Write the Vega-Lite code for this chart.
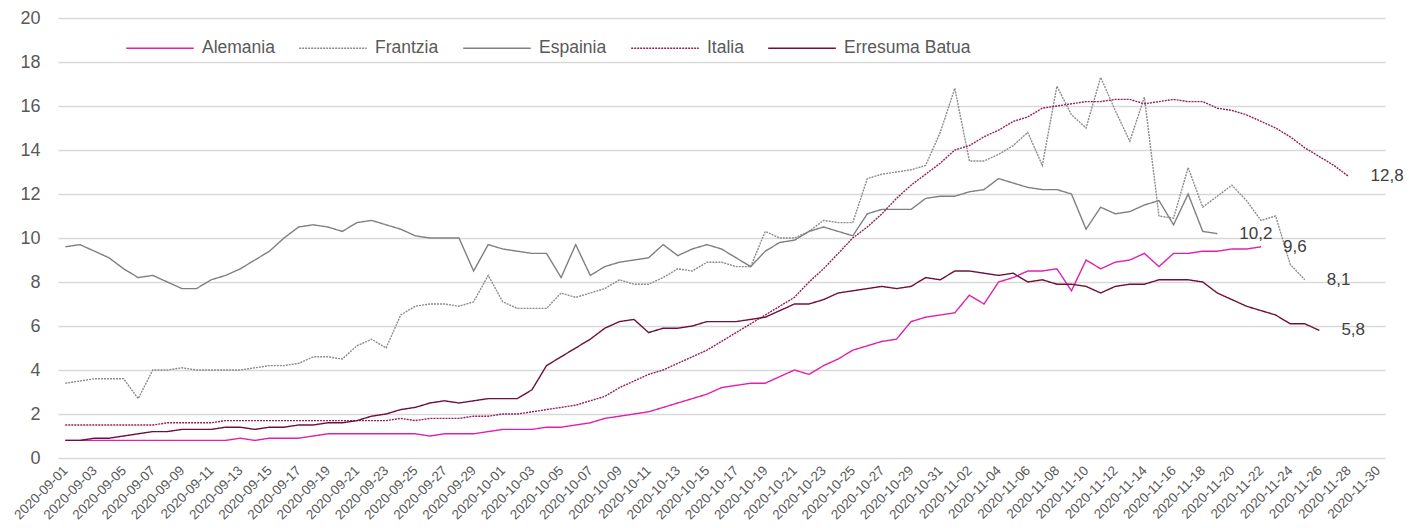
{
  "$schema": "https://vega.github.io/schema/vega-lite/v6.json",
  "width": 1327,
  "height": 440,
  "autosize": {"type": "none"},
  "padding": {"left": 58, "top": 18, "right": 24, "bottom": 70},
  "background": "white",
  "config": {
    "font": "Liberation Sans, Arial, sans-serif",
    "view": {"stroke": null}
  },
  "data": {
    "values": [
      {"date": "2020-09-01", "Alemania": 0.8, "Frantzia": 3.4, "Espainia": 9.6, "Italia": 1.5, "Erresuma Batua": 0.8},
      {"date": "2020-09-02", "Alemania": 0.8, "Frantzia": 3.5, "Espainia": 9.7, "Italia": 1.5, "Erresuma Batua": 0.8},
      {"date": "2020-09-03", "Alemania": 0.8, "Frantzia": 3.6, "Espainia": 9.4, "Italia": 1.5, "Erresuma Batua": 0.9},
      {"date": "2020-09-04", "Alemania": 0.8, "Frantzia": 3.6, "Espainia": 9.1, "Italia": 1.5, "Erresuma Batua": 0.9},
      {"date": "2020-09-05", "Alemania": 0.8, "Frantzia": 3.6, "Espainia": 8.6, "Italia": 1.5, "Erresuma Batua": 1.0},
      {"date": "2020-09-06", "Alemania": 0.8, "Frantzia": 2.7, "Espainia": 8.2, "Italia": 1.5, "Erresuma Batua": 1.1},
      {"date": "2020-09-07", "Alemania": 0.8, "Frantzia": 4.0, "Espainia": 8.3, "Italia": 1.5, "Erresuma Batua": 1.2},
      {"date": "2020-09-08", "Alemania": 0.8, "Frantzia": 4.0, "Espainia": 8.0, "Italia": 1.6, "Erresuma Batua": 1.2},
      {"date": "2020-09-09", "Alemania": 0.8, "Frantzia": 4.1, "Espainia": 7.7, "Italia": 1.6, "Erresuma Batua": 1.3},
      {"date": "2020-09-10", "Alemania": 0.8, "Frantzia": 4.0, "Espainia": 7.7, "Italia": 1.6, "Erresuma Batua": 1.3},
      {"date": "2020-09-11", "Alemania": 0.8, "Frantzia": 4.0, "Espainia": 8.1, "Italia": 1.6, "Erresuma Batua": 1.3},
      {"date": "2020-09-12", "Alemania": 0.8, "Frantzia": 4.0, "Espainia": 8.3, "Italia": 1.7, "Erresuma Batua": 1.4},
      {"date": "2020-09-13", "Alemania": 0.9, "Frantzia": 4.0, "Espainia": 8.6, "Italia": 1.7, "Erresuma Batua": 1.4},
      {"date": "2020-09-14", "Alemania": 0.8, "Frantzia": 4.1, "Espainia": 9.0, "Italia": 1.7, "Erresuma Batua": 1.3},
      {"date": "2020-09-15", "Alemania": 0.9, "Frantzia": 4.2, "Espainia": 9.4, "Italia": 1.7, "Erresuma Batua": 1.4},
      {"date": "2020-09-16", "Alemania": 0.9, "Frantzia": 4.2, "Espainia": 10.0, "Italia": 1.7, "Erresuma Batua": 1.4},
      {"date": "2020-09-17", "Alemania": 0.9, "Frantzia": 4.3, "Espainia": 10.5, "Italia": 1.7, "Erresuma Batua": 1.5},
      {"date": "2020-09-18", "Alemania": 1.0, "Frantzia": 4.6, "Espainia": 10.6, "Italia": 1.7, "Erresuma Batua": 1.5},
      {"date": "2020-09-19", "Alemania": 1.1, "Frantzia": 4.6, "Espainia": 10.5, "Italia": 1.7, "Erresuma Batua": 1.6},
      {"date": "2020-09-20", "Alemania": 1.1, "Frantzia": 4.5, "Espainia": 10.3, "Italia": 1.7, "Erresuma Batua": 1.6},
      {"date": "2020-09-21", "Alemania": 1.1, "Frantzia": 5.1, "Espainia": 10.7, "Italia": 1.7, "Erresuma Batua": 1.7},
      {"date": "2020-09-22", "Alemania": 1.1, "Frantzia": 5.4, "Espainia": 10.8, "Italia": 1.7, "Erresuma Batua": 1.9},
      {"date": "2020-09-23", "Alemania": 1.1, "Frantzia": 5.0, "Espainia": 10.6, "Italia": 1.7, "Erresuma Batua": 2.0},
      {"date": "2020-09-24", "Alemania": 1.1, "Frantzia": 6.5, "Espainia": 10.4, "Italia": 1.8, "Erresuma Batua": 2.2},
      {"date": "2020-09-25", "Alemania": 1.1, "Frantzia": 6.9, "Espainia": 10.1, "Italia": 1.7, "Erresuma Batua": 2.3},
      {"date": "2020-09-26", "Alemania": 1.0, "Frantzia": 7.0, "Espainia": 10.0, "Italia": 1.8, "Erresuma Batua": 2.5},
      {"date": "2020-09-27", "Alemania": 1.1, "Frantzia": 7.0, "Espainia": 10.0, "Italia": 1.8, "Erresuma Batua": 2.6},
      {"date": "2020-09-28", "Alemania": 1.1, "Frantzia": 6.9, "Espainia": 10.0, "Italia": 1.8, "Erresuma Batua": 2.5},
      {"date": "2020-09-29", "Alemania": 1.1, "Frantzia": 7.1, "Espainia": 8.5, "Italia": 1.9, "Erresuma Batua": 2.6},
      {"date": "2020-09-30", "Alemania": 1.2, "Frantzia": 8.3, "Espainia": 9.7, "Italia": 1.9, "Erresuma Batua": 2.7},
      {"date": "2020-10-01", "Alemania": 1.3, "Frantzia": 7.1, "Espainia": 9.5, "Italia": 2.0, "Erresuma Batua": 2.7},
      {"date": "2020-10-02", "Alemania": 1.3, "Frantzia": 6.8, "Espainia": 9.4, "Italia": 2.0, "Erresuma Batua": 2.7},
      {"date": "2020-10-03", "Alemania": 1.3, "Frantzia": 6.8, "Espainia": 9.3, "Italia": 2.1, "Erresuma Batua": 3.1},
      {"date": "2020-10-04", "Alemania": 1.4, "Frantzia": 6.8, "Espainia": 9.3, "Italia": 2.2, "Erresuma Batua": 4.2},
      {"date": "2020-10-05", "Alemania": 1.4, "Frantzia": 7.5, "Espainia": 8.2, "Italia": 2.3, "Erresuma Batua": 4.6},
      {"date": "2020-10-06", "Alemania": 1.5, "Frantzia": 7.3, "Espainia": 9.7, "Italia": 2.4, "Erresuma Batua": 5.0},
      {"date": "2020-10-07", "Alemania": 1.6, "Frantzia": 7.5, "Espainia": 8.3, "Italia": 2.6, "Erresuma Batua": 5.4},
      {"date": "2020-10-08", "Alemania": 1.8, "Frantzia": 7.7, "Espainia": 8.7, "Italia": 2.8, "Erresuma Batua": 5.9},
      {"date": "2020-10-09", "Alemania": 1.9, "Frantzia": 8.1, "Espainia": 8.9, "Italia": 3.2, "Erresuma Batua": 6.2},
      {"date": "2020-10-10", "Alemania": 2.0, "Frantzia": 7.9, "Espainia": 9.0, "Italia": 3.5, "Erresuma Batua": 6.3},
      {"date": "2020-10-11", "Alemania": 2.1, "Frantzia": 7.9, "Espainia": 9.1, "Italia": 3.8, "Erresuma Batua": 5.7},
      {"date": "2020-10-12", "Alemania": 2.3, "Frantzia": 8.2, "Espainia": 9.7, "Italia": 4.0, "Erresuma Batua": 5.9},
      {"date": "2020-10-13", "Alemania": 2.5, "Frantzia": 8.6, "Espainia": 9.2, "Italia": 4.3, "Erresuma Batua": 5.9},
      {"date": "2020-10-14", "Alemania": 2.7, "Frantzia": 8.5, "Espainia": 9.5, "Italia": 4.6, "Erresuma Batua": 6.0},
      {"date": "2020-10-15", "Alemania": 2.9, "Frantzia": 8.9, "Espainia": 9.7, "Italia": 4.9, "Erresuma Batua": 6.2},
      {"date": "2020-10-16", "Alemania": 3.2, "Frantzia": 8.9, "Espainia": 9.5, "Italia": 5.3, "Erresuma Batua": 6.2},
      {"date": "2020-10-17", "Alemania": 3.3, "Frantzia": 8.7, "Espainia": 9.1, "Italia": 5.7, "Erresuma Batua": 6.2},
      {"date": "2020-10-18", "Alemania": 3.4, "Frantzia": 8.7, "Espainia": 8.7, "Italia": 6.1, "Erresuma Batua": 6.3},
      {"date": "2020-10-19", "Alemania": 3.4, "Frantzia": 10.3, "Espainia": 9.4, "Italia": 6.5, "Erresuma Batua": 6.4},
      {"date": "2020-10-20", "Alemania": 3.7, "Frantzia": 10.0, "Espainia": 9.8, "Italia": 6.9, "Erresuma Batua": 6.7},
      {"date": "2020-10-21", "Alemania": 4.0, "Frantzia": 10.0, "Espainia": 9.9, "Italia": 7.3, "Erresuma Batua": 7.0},
      {"date": "2020-10-22", "Alemania": 3.8, "Frantzia": 10.3, "Espainia": 10.3, "Italia": 8.0, "Erresuma Batua": 7.0},
      {"date": "2020-10-23", "Alemania": 4.2, "Frantzia": 10.8, "Espainia": 10.5, "Italia": 8.6, "Erresuma Batua": 7.2},
      {"date": "2020-10-24", "Alemania": 4.5, "Frantzia": 10.7, "Espainia": 10.3, "Italia": 9.3, "Erresuma Batua": 7.5},
      {"date": "2020-10-25", "Alemania": 4.9, "Frantzia": 10.7, "Espainia": 10.1, "Italia": 10.0, "Erresuma Batua": 7.6},
      {"date": "2020-10-26", "Alemania": 5.1, "Frantzia": 12.7, "Espainia": 11.1, "Italia": 10.5, "Erresuma Batua": 7.7},
      {"date": "2020-10-27", "Alemania": 5.3, "Frantzia": 12.9, "Espainia": 11.3, "Italia": 11.1, "Erresuma Batua": 7.8},
      {"date": "2020-10-28", "Alemania": 5.4, "Frantzia": 13.0, "Espainia": 11.3, "Italia": 11.8, "Erresuma Batua": 7.7},
      {"date": "2020-10-29", "Alemania": 6.2, "Frantzia": 13.1, "Espainia": 11.3, "Italia": 12.4, "Erresuma Batua": 7.8},
      {"date": "2020-10-30", "Alemania": 6.4, "Frantzia": 13.3, "Espainia": 11.8, "Italia": 12.9, "Erresuma Batua": 8.2},
      {"date": "2020-10-31", "Alemania": 6.5, "Frantzia": 14.8, "Espainia": 11.9, "Italia": 13.4, "Erresuma Batua": 8.1},
      {"date": "2020-11-01", "Alemania": 6.6, "Frantzia": 16.8, "Espainia": 11.9, "Italia": 14.0, "Erresuma Batua": 8.5},
      {"date": "2020-11-02", "Alemania": 7.4, "Frantzia": 13.5, "Espainia": 12.1, "Italia": 14.2, "Erresuma Batua": 8.5},
      {"date": "2020-11-03", "Alemania": 7.0, "Frantzia": 13.5, "Espainia": 12.2, "Italia": 14.6, "Erresuma Batua": 8.4},
      {"date": "2020-11-04", "Alemania": 8.0, "Frantzia": 13.8, "Espainia": 12.7, "Italia": 14.9, "Erresuma Batua": 8.3},
      {"date": "2020-11-05", "Alemania": 8.2, "Frantzia": 14.2, "Espainia": 12.5, "Italia": 15.3, "Erresuma Batua": 8.4},
      {"date": "2020-11-06", "Alemania": 8.5, "Frantzia": 14.8, "Espainia": 12.3, "Italia": 15.5, "Erresuma Batua": 8.0},
      {"date": "2020-11-07", "Alemania": 8.5, "Frantzia": 13.3, "Espainia": 12.2, "Italia": 15.9, "Erresuma Batua": 8.1},
      {"date": "2020-11-08", "Alemania": 8.6, "Frantzia": 16.9, "Espainia": 12.2, "Italia": 16.0, "Erresuma Batua": 7.9},
      {"date": "2020-11-09", "Alemania": 7.6, "Frantzia": 15.6, "Espainia": 12.0, "Italia": 16.1, "Erresuma Batua": 7.9},
      {"date": "2020-11-10", "Alemania": 9.0, "Frantzia": 15.0, "Espainia": 10.4, "Italia": 16.2, "Erresuma Batua": 7.8},
      {"date": "2020-11-11", "Alemania": 8.6, "Frantzia": 17.3, "Espainia": 11.4, "Italia": 16.2, "Erresuma Batua": 7.5},
      {"date": "2020-11-12", "Alemania": 8.9, "Frantzia": 15.8, "Espainia": 11.1, "Italia": 16.3, "Erresuma Batua": 7.8},
      {"date": "2020-11-13", "Alemania": 9.0, "Frantzia": 14.4, "Espainia": 11.2, "Italia": 16.3, "Erresuma Batua": 7.9},
      {"date": "2020-11-14", "Alemania": 9.3, "Frantzia": 16.4, "Espainia": 11.5, "Italia": 16.1, "Erresuma Batua": 7.9},
      {"date": "2020-11-15", "Alemania": 8.7, "Frantzia": 11.0, "Espainia": 11.7, "Italia": 16.2, "Erresuma Batua": 8.1},
      {"date": "2020-11-16", "Alemania": 9.3, "Frantzia": 10.9, "Espainia": 10.6, "Italia": 16.3, "Erresuma Batua": 8.1},
      {"date": "2020-11-17", "Alemania": 9.3, "Frantzia": 13.2, "Espainia": 12.0, "Italia": 16.2, "Erresuma Batua": 8.1},
      {"date": "2020-11-18", "Alemania": 9.4, "Frantzia": 11.4, "Espainia": 10.3, "Italia": 16.2, "Erresuma Batua": 8.0},
      {"date": "2020-11-19", "Alemania": 9.4, "Frantzia": 11.9, "Espainia": 10.2, "Italia": 15.9, "Erresuma Batua": 7.5},
      {"date": "2020-11-20", "Alemania": 9.5, "Frantzia": 12.4, "Espainia": null, "Italia": 15.8, "Erresuma Batua": 7.2},
      {"date": "2020-11-21", "Alemania": 9.5, "Frantzia": 11.7, "Espainia": null, "Italia": 15.6, "Erresuma Batua": 6.9},
      {"date": "2020-11-22", "Alemania": 9.6, "Frantzia": 10.8, "Espainia": null, "Italia": 15.3, "Erresuma Batua": 6.7},
      {"date": "2020-11-23", "Alemania": null, "Frantzia": 11.0, "Espainia": null, "Italia": 15.0, "Erresuma Batua": 6.5},
      {"date": "2020-11-24", "Alemania": null, "Frantzia": 8.8, "Espainia": null, "Italia": 14.6, "Erresuma Batua": 6.1},
      {"date": "2020-11-25", "Alemania": null, "Frantzia": 8.1, "Espainia": null, "Italia": 14.1, "Erresuma Batua": 6.1},
      {"date": "2020-11-26", "Alemania": null, "Frantzia": null, "Espainia": null, "Italia": 13.7, "Erresuma Batua": 5.8},
      {"date": "2020-11-27", "Alemania": null, "Frantzia": null, "Espainia": null, "Italia": 13.3, "Erresuma Batua": null},
      {"date": "2020-11-28", "Alemania": null, "Frantzia": null, "Espainia": null, "Italia": 12.8, "Erresuma Batua": null}
    ]
  },
  "encoding": {
    "x": {
      "field": "date",
      "type": "ordinal",
      "scale": {
        "type": "point",
        "padding": 0.5,
        "domain": ["2020-09-01","2020-09-02","2020-09-03","2020-09-04","2020-09-05","2020-09-06","2020-09-07","2020-09-08","2020-09-09","2020-09-10","2020-09-11","2020-09-12","2020-09-13","2020-09-14","2020-09-15","2020-09-16","2020-09-17","2020-09-18","2020-09-19","2020-09-20","2020-09-21","2020-09-22","2020-09-23","2020-09-24","2020-09-25","2020-09-26","2020-09-27","2020-09-28","2020-09-29","2020-09-30","2020-10-01","2020-10-02","2020-10-03","2020-10-04","2020-10-05","2020-10-06","2020-10-07","2020-10-08","2020-10-09","2020-10-10","2020-10-11","2020-10-12","2020-10-13","2020-10-14","2020-10-15","2020-10-16","2020-10-17","2020-10-18","2020-10-19","2020-10-20","2020-10-21","2020-10-22","2020-10-23","2020-10-24","2020-10-25","2020-10-26","2020-10-27","2020-10-28","2020-10-29","2020-10-30","2020-10-31","2020-11-01","2020-11-02","2020-11-03","2020-11-04","2020-11-05","2020-11-06","2020-11-07","2020-11-08","2020-11-09","2020-11-10","2020-11-11","2020-11-12","2020-11-13","2020-11-14","2020-11-15","2020-11-16","2020-11-17","2020-11-18","2020-11-19","2020-11-20","2020-11-21","2020-11-22","2020-11-23","2020-11-24","2020-11-25","2020-11-26","2020-11-27","2020-11-28","2020-11-29","2020-11-30"]
      },
      "axis": {
        "values": ["2020-09-01","2020-09-03","2020-09-05","2020-09-07","2020-09-09","2020-09-11","2020-09-13","2020-09-15","2020-09-17","2020-09-19","2020-09-21","2020-09-23","2020-09-25","2020-09-27","2020-09-29","2020-10-01","2020-10-03","2020-10-05","2020-10-07","2020-10-09","2020-10-11","2020-10-13","2020-10-15","2020-10-17","2020-10-19","2020-10-21","2020-10-23","2020-10-25","2020-10-27","2020-10-29","2020-10-31","2020-11-02","2020-11-04","2020-11-06","2020-11-08","2020-11-10","2020-11-12","2020-11-14","2020-11-16","2020-11-18","2020-11-20","2020-11-22","2020-11-24","2020-11-26","2020-11-28","2020-11-30"],
        "title": null,
        "labelAngle": -45,
        "labelAlign": "right",
        "labelBaseline": "middle",
        "labelFontSize": 13.5,
        "labelColor": "#595959",
        "labelPadding": 10,
        "labelOverlap": false,
        "labelBound": false,
        "ticks": false,
        "domain": false,
        "grid": false
      }
    }
  },
  "layer": [
    {
      "transform": [
        {"fold": ["Alemania", "Frantzia", "Espainia", "Italia", "Erresuma Batua"], "as": ["pais", "value"]},
        {"filter": "isValid(datum.value)"}
      ],
      "mark": {"type": "line", "strokeWidth": 1.4},
      "encoding": {
        "y": {
          "field": "value",
          "type": "quantitative",
          "scale": {"domain": [0, 20], "nice": false},
          "axis": {
            "values": [0, 2, 4, 6, 8, 10, 12, 14, 16, 18, 20],
            "title": null,
            "grid": true,
            "gridColor": "#d9d9d9",
            "gridWidth": 1.5,
            "domain": false,
            "ticks": false,
            "labelFontSize": 18,
            "labelColor": "#595959",
            "labelPadding": 18
          }
        },
        "color": {
          "field": "pais",
          "type": "nominal",
          "scale": {
            "domain": ["Alemania", "Frantzia", "Espainia", "Italia", "Erresuma Batua"],
            "range": ["#E020A8", "#8C8C8C", "#808080", "#94205A", "#6E0F3C"]
          },
          "legend": {
            "title": null,
            "orient": "none",
            "legendX": 67,
            "legendY": -5,
            "direction": "horizontal",
            "symbolType": "stroke",
            "symbolSize": 4570,
            "symbolStrokeWidth": 1.5,
            "labelFontSize": 17.5,
            "labelColor": "#595959",
            "labelOffset": 7,
            "columnPadding": 21,
            "padding": 0
          }
        },
        "strokeDash": {
          "field": "pais",
          "type": "nominal",
          "scale": {
            "domain": ["Alemania", "Frantzia", "Espainia", "Italia", "Erresuma Batua"],
            "range": [[1, 0], [2, 1], [1, 0], [2, 1], [1, 0]]
          },
          "legend": {
            "title": null,
            "orient": "none",
            "legendX": 67,
            "legendY": -5,
            "direction": "horizontal",
            "symbolType": "stroke",
            "symbolSize": 4570,
            "symbolStrokeWidth": 1.5,
            "labelFontSize": 17.5,
            "labelColor": "#595959",
            "labelOffset": 7,
            "columnPadding": 21,
            "padding": 0
          }
        }
      }
    },
    {
      "data": {
        "values": [
          {"date": "2020-11-28", "value": 12.8, "label": "12,8"},
          {"date": "2020-11-19", "value": 10.2, "label": "10,2"},
          {"date": "2020-11-22", "value": 9.6, "label": "9,6"},
          {"date": "2020-11-25", "value": 8.1, "label": "8,1"},
          {"date": "2020-11-26", "value": 5.8, "label": "5,8"}
        ]
      },
      "mark": {"type": "text", "align": "left", "baseline": "middle", "dx": 22, "fontSize": 17, "color": "#404040"},
      "encoding": {
        "y": {"field": "value", "type": "quantitative"},
        "text": {"field": "label"}
      }
    }
  ]
}
